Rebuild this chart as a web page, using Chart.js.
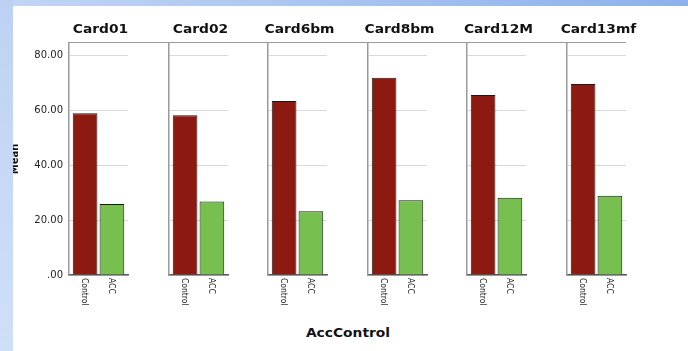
<!DOCTYPE html>
<html>
<head>
<meta charset="utf-8">
<script src="https://cdn.jsdelivr.net/npm/chart.js@4.4.1/dist/chart.umd.min.js"></script>
<style>
  body { margin: 0; background: #fff; }
  #wrap { position: relative; width: 688px; height: 351px; overflow: hidden; background: #fff; }
  #wrap canvas { position: absolute; top: 0; }
  #frameTop { position: absolute; left: 69px; top: 42px; width: 557px; border-top: 1px solid #9a9a9a; }
  #xTitle { position: absolute; left: 248px; width: 200px; top: 326px; text-align: center;
            font: bold 11.5px "DejaVu Sans", sans-serif; color: #111; transform: scaleX(1.2); }
  .stripTop { position: absolute; left: 0; top: 0; width: 688px; height: 6px; z-index: 5;
              background: linear-gradient(to right, #c2d6f4, #8cb1ec); }
  .stripLeft { position: absolute; left: 0; top: 0; width: 13px; height: 351px; z-index: 5;
               background: linear-gradient(to bottom, #bdd2f3, #cfdff8); }
</style>
</head>
<body>
<div id="wrap">
  <div id="frameTop"></div>
  <div id="xTitle">AccControl</div>
  <div class="stripTop"></div>
  <div class="stripLeft"></div>
</div>
<script>
const categories = ['Card01', 'Card02', 'Card6bm', 'Card8bm', 'Card12M', 'Card13mf'];
const groups = ['Control', 'ACC'];
const controlMeans = [58.8, 58.1, 63.3, 71.8, 65.5, 69.5];
const accMeans = [25.8, 26.7, 23.2, 27.2, 28.1, 28.8];
const yTickLabels = ['.00', '20.00', '40.00', '60.00', '80.00'];

const barColors = ['#8c1a11', '#77bf4f'];
const axisSpace = 64;   // room left of each panel for the y axis
const plotWidth = 59;
const canvasWidth = 150;
const panelPitch = 99.6;

//draws the panel title and the rotated group labels under the bars
const panelText = {
    id: 'panelText',
    afterDraw(chart, args, opts) {
        const {ctx, chartArea, scales} = chart;
        ctx.save();
        ctx.fillStyle = '#111';
        ctx.font = 'bold 11.5px "DejaVu Sans"';
        ctx.textAlign = 'center';
        ctx.textBaseline = 'alphabetic';
        ctx.translate((chartArea.left + chartArea.right) / 2 + 2, chartArea.top - 10);
        ctx.scale(1.2, 1);
        ctx.fillText(opts.title, 0, 0);
        ctx.restore();

        ctx.save();
        ctx.fillStyle = '#222';
        ctx.font = '8.5px "DejaVu Sans Condensed", "Liberation Sans Narrow", "DejaVu Sans"';
        ctx.textAlign = 'left';
        ctx.textBaseline = 'middle';
        groups.forEach((g, j) => {
            ctx.save();
            ctx.translate(scales.x.getPixelForValue(j) - 1, chartArea.bottom + 3);
            ctx.rotate(Math.PI / 2);
            ctx.fillText(g, 0, 0);
            ctx.restore();
        });
        ctx.restore();
    }
};

const wrap = document.getElementById('wrap');

categories.forEach((cat, i) => {
    let canvas = document.createElement('canvas');
    canvas.width = canvasWidth;
    canvas.height = 351;
    canvas.style.left = (Math.round(69 + panelPitch * i) - axisSpace) + 'px';
    wrap.appendChild(canvas);

    let first = i === 0;

    new Chart(canvas.getContext('2d'), {
        type: 'bar',
        plugins: [panelText],
        data: {
            datasets: [{
                data: groups.map((g, j) => ({x: j, y: j === 0 ? controlMeans[i] : accMeans[i]})),
                backgroundColor: barColors,
                borderColor: '#1a1a1a',
                borderWidth: 1,
                categoryPercentage: 1,
                barPercentage: 0.92
            }]
        },
        options: {
            responsive: false,
            animation: false,
            layout: {padding: {top: 43, right: canvasWidth - axisSpace - plotWidth, left: 0, bottom: 0}},
            plugins: {
                legend: {display: false},
                tooltip: {enabled: false},
                title: {display: false},
                panelText: {title: cat}
            },
            scales: {
                x: {
                    type: 'linear',
                    offset: false,
                    min: -0.6,
                    max: 1.6,
                    ticks: {display: false},
                    grid: {display: false, drawTicks: false, offset: false},
                    border: {color: '#5a5a5a', width: 1.5},
                    afterBuildTicks: (s) => { s.ticks = groups.map((g, j) => ({value: j})); },
                    afterFit: (s) => { s.height = 76; }
                },
                y: {
                    min: 0,
                    max: 84.4,
                    ticks: {
                        display: first,
                        stepSize: 20,
                        includeBounds: false,
                        padding: 6,
                        color: '#222',
                        font: {family: 'DejaVu Sans', size: 10},
                        callback: (v) => yTickLabels[Math.round(v / 20)]
                    },
                    grid: {color: '#d9d9d9', drawTicks: false},
                    border: {color: '#9a9a9a', width: 1.5},
                    title: {
                        display: first,
                        text: 'Mean',
                        color: '#111',
                        font: {family: 'DejaVu Sans', size: 10, weight: 'bold'},
                        padding: {top: 4, bottom: 0}
                    },
                    afterFit: (s) => { s.width = axisSpace; }
                }
            }
        }
    });
});
</script>
</body>
</html>
